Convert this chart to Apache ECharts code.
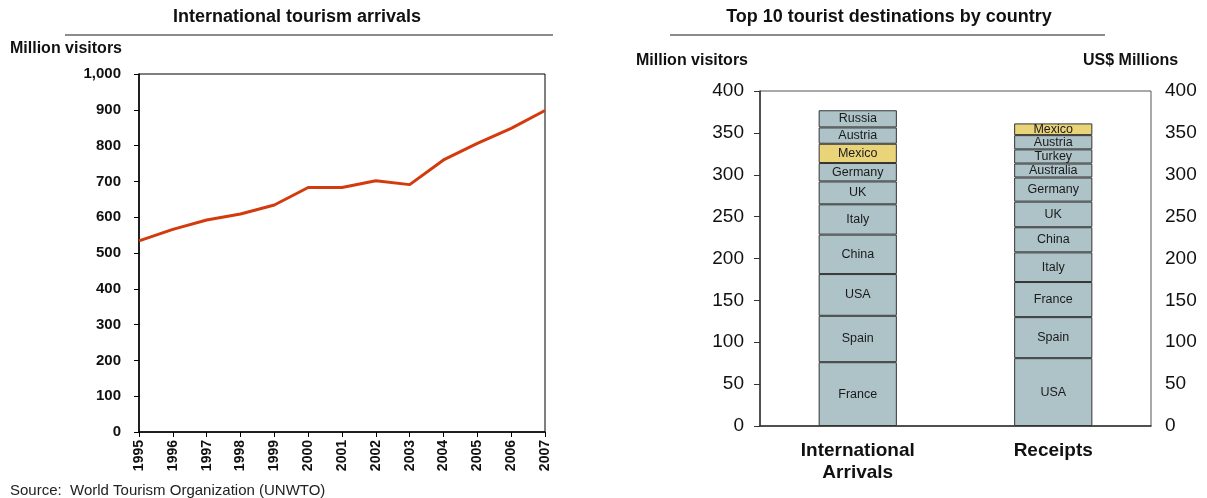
<!DOCTYPE html>
<html>
<head>
<meta charset="utf-8">
<script src="https://cdn.jsdelivr.net/npm/echarts@6/dist/echarts.min.js"></script>
<style>
html,body{margin:0;padding:0;background:#fff;}
#c{width:1207px;height:498px;}
</style>
</head>
<body>
<div id="c"></div>
<script>
// ---- data ----
var years = ['1995','1996','1997','1998','1999','2000','2001','2002','2003','2004','2005','2006','2007'];
var arrivals = [534, 566, 592, 609, 634, 683, 683, 702, 691, 760, 806, 848, 898];

var barCategories = ['International\nArrivals', 'Receipts'];
var arrivalCountries = ['France','Spain','USA','China','Italy','UK','Germany','Mexico','Austria','Russia'];
var arrivalValues = [76.2, 55.4, 49.8, 47.1, 36.2, 27.3, 22.0, 23.0, 19.5, 20.5];
var receiptCountries = ['USA','Spain','France','Italy','China','UK','Germany','Australia','Turkey','Austria','Mexico'];
var receiptValues = [81.0, 49.0, 41.9, 35.4, 30.0, 30.6, 28.8, 16.7, 16.9, 17.0, 14.0];

// ---- styles ----
var FONT = 'Liberation Sans, Arial, sans-serif';
var BAR_COLOR = '#aec3c8';
var HIGHLIGHT = '#ead47a';

function fmtThousands(v){ return String(v).replace(/\B(?=(\d{3})+(?!\d))/g, ','); }

var levels = Math.max(arrivalCountries.length, receiptCountries.length);
var barSeries = [];
for (var i = 0; i < levels; i++) {
  var names = [arrivalCountries[i], receiptCountries[i]];
  var vals = [arrivalValues[i], receiptValues[i]];
  var data = [];
  for (var k = 0; k < 2; k++) {
    if (vals[k] == null) { data.push('-'); continue; }
    data.push({
      value: vals[k],
      name: names[k],
      itemStyle: { color: names[k] === 'Mexico' ? HIGHLIGHT : BAR_COLOR }
    });
  }
  barSeries.push({
    type: 'bar',
    xAxisIndex: 1,
    yAxisIndex: 1,
    stack: 'top10',
    barWidth: '40%',
    data: data,
    itemStyle: { borderColor: '#333', borderWidth: 1 },
    label: {
      show: true,
      position: 'inside',
      formatter: function (p) { return p.data && p.data.name ? p.data.name : ''; },
      color: '#1a1a1a',
      fontFamily: FONT,
      fontSize: 12.5,
      letterSpacing: 1
    },
    silent: true
  });
}

var chart = echarts.init(document.getElementById('c'));
chart.setOption({
  animation: false,
  backgroundColor: '#fff',
  title: [
    { text: 'International tourism arrivals', left: 292, top: 3, textAlign: 'center',
      textStyle: { fontFamily: FONT, fontSize: 18, fontWeight: 'bold', color: '#111' } },
    { text: 'Top 10 tourist destinations by country', left: 884, top: 3, textAlign: 'center',
      textStyle: { fontFamily: FONT, fontSize: 18, fontWeight: 'bold', color: '#111' } },
    { text: 'Million visitors', left: 5, top: 36,
      textStyle: { fontFamily: FONT, fontSize: 16, fontWeight: 'bold', color: '#111' } },
    { text: 'Million visitors', left: 631, top: 48,
      textStyle: { fontFamily: FONT, fontSize: 16, fontWeight: 'bold', color: '#111' } },
    { text: 'US$ Millions', left: 1078, top: 48,
      textStyle: { fontFamily: FONT, fontSize: 16, fontWeight: 'bold', color: '#111' } },
    { text: 'Source:  World Tourism Organization (UNWTO)', left: 5, top: 478,
      textStyle: { fontFamily: FONT, fontSize: 15, fontWeight: 'normal', color: '#222' } }
  ],
  graphic: [
    { type: 'line', shape: { x1: 65, y1: 35, x2: 553, y2: 35 }, style: { stroke: '#666', lineWidth: 1.5 }, silent: true },
    { type: 'line', shape: { x1: 670, y1: 35, x2: 1105, y2: 35 }, style: { stroke: '#666', lineWidth: 1.5 }, silent: true }
  ],
  grid: [
    { left: 139, right: 662, top: 74, bottom: 66, show: true, borderColor: '#000', borderWidth: 1 },
    { left: 760, right: 56, top: 91, bottom: 72, show: true, borderColor: '#555', borderWidth: 1 }
  ],
  xAxis: [
    {
      gridIndex: 0, type: 'category', data: years, boundaryGap: false,
      axisLine: { lineStyle: { color: '#000', width: 1.5 } },
      axisTick: { alignWithLabel: true, length: 5, lineStyle: { color: '#000' } },
      axisLabel: { rotate: 90, margin: 8, fontFamily: FONT, fontSize: 14, fontWeight: 'bold', color: '#111', interval: 0 },
      splitLine: { show: false }
    },
    {
      gridIndex: 1, type: 'category', data: barCategories, boundaryGap: true,
      axisLine: { lineStyle: { color: '#333', width: 1.5 } },
      axisTick: { length: 6, lineStyle: { color: '#333' } },
      axisLabel: { margin: 14, fontFamily: FONT, fontSize: 19, fontWeight: 'bold', color: '#111', lineHeight: 22, interval: 0 },
      splitLine: { show: false }
    }
  ],
  yAxis: [
    {
      gridIndex: 0, type: 'value', min: 0, max: 1000, interval: 100,
      axisLine: { show: true, lineStyle: { color: '#000', width: 1.5 } },
      axisTick: { show: true, length: 5, lineStyle: { color: '#000' } },
      axisLabel: { margin: 18, fontFamily: FONT, fontSize: 15, fontWeight: 'bold', color: '#111', formatter: fmtThousands },
      splitLine: { show: false }
    },
    {
      gridIndex: 1, type: 'value', min: 0, max: 400, interval: 50, position: 'left',
      axisLine: { show: true, lineStyle: { color: '#333', width: 1.5 } },
      axisTick: { show: true, length: 6, lineStyle: { color: '#333' } },
      axisLabel: { margin: 16, fontFamily: FONT, fontSize: 19, color: '#111' },
      splitLine: { show: false }
    },
    {
      gridIndex: 1, type: 'value', min: 0, max: 400, interval: 50, position: 'right',
      axisLine: { show: false },
      axisTick: { show: false },
      axisLabel: { margin: 14, fontFamily: FONT, fontSize: 19, color: '#111' },
      splitLine: { show: false }
    }
  ],
  series: [
    {
      type: 'line', xAxisIndex: 0, yAxisIndex: 0, data: arrivals,
      symbol: 'none', lineStyle: { color: '#d33a0c', width: 3 }, silent: true
    }
  ].concat(barSeries)
});
</script>
</body>
</html>
